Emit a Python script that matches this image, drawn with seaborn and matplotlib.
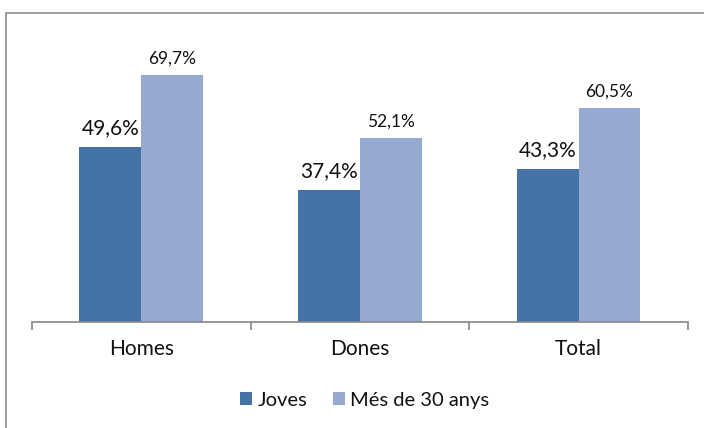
import matplotlib
matplotlib.use("Agg")
import matplotlib.pyplot as plt
import matplotlib.patches as mpatches
import seaborn as sns
import pandas as pd

categories = ["Homes", "Dones", "Total"]
series_names = ["Joves", "Més de 30 anys"]
joves = [49.6, 37.4, 43.3]
mes_30 = [69.7, 52.1, 60.5]
colors = ["#4673A7", "#95A9D1"]

df = pd.DataFrame({
    "categoria": categories * 2,
    "grup": [series_names[0]] * 3 + [series_names[1]] * 3,
    "valor": joves + mes_30,
})

sns.set_theme(style="white")
plt.rcParams["font.family"] = ["Lato", "DejaVu Sans"]

fig = plt.figure(figsize=(7.04, 4.28), dpi=100)
ax = fig.add_axes([0.0455, 0.2477, 0.9315, 0.6613])

sns.barplot(data=df, x="categoria", y="valor", hue="grup", order=categories,
            hue_order=series_names, palette=colors, width=0.567,
            linewidth=0, saturation=1, ax=ax, legend=False)

ax.set_ylim(0, 80)
ax.set_xlim(-0.5, 2.5)
ax.set_xlabel("")
ax.set_ylabel("")
ax.set_yticks([])

for side in ["top", "right", "left"]:
    ax.spines[side].set_visible(False)
ax.spines["bottom"].set_color("#868686")
ax.spines["bottom"].set_linewidth(1.2)

# category boundaries as outward tick marks, labels centred between them
ax.set_xticks([-0.5, 0.5, 1.5, 2.5], minor=True)
ax.tick_params(axis="x", which="minor", direction="out", length=6,
               width=1.2, color="#868686", bottom=True)
ax.tick_params(axis="x", which="major", length=0, pad=12, labelsize=15,
               labelcolor="#111111")

label_sizes = [15, 12.5]
for container, size in zip(ax.containers, label_sizes):
    ax.bar_label(container,
                 labels=[f"{v:.1f}%".replace(".", ",") for v in container.datavalues],
                 padding=6, fontsize=size, color="#111111")

handles = [mpatches.Patch(facecolor=c, edgecolor="none") for c in colors]
fig.legend(handles, series_names, loc="center", bbox_to_anchor=(0.518, 0.065),
           ncol=2, frameon=False, fontsize=14.5, handlelength=0.6,
           handleheight=0.6, handletextpad=0.28, columnspacing=1.25,
           labelcolor="#111111")

# outer chart frame
frame = mpatches.Rectangle((6 / 704, -0.1), 1.2, (428 - 13) / 428 + 0.1,
                           transform=fig.transFigure, fill=False,
                           edgecolor="#8c8c8c", linewidth=1.2, clip_on=False)
fig.patches.append(frame)

fig.savefig("out.png", dpi=100, facecolor="white")
